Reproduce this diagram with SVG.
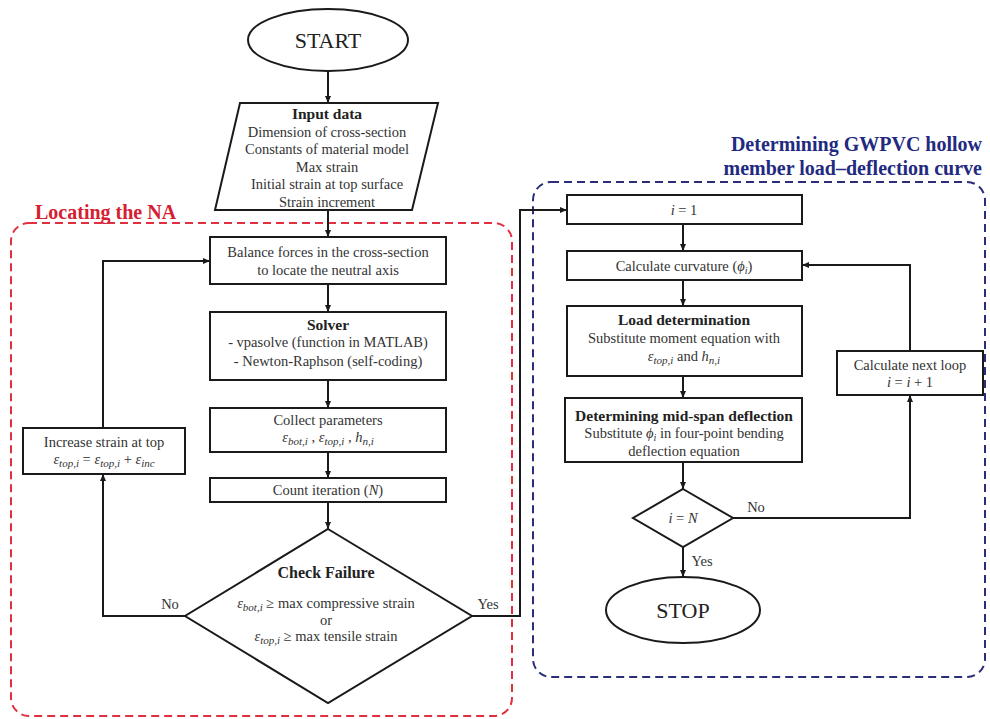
<svg xmlns="http://www.w3.org/2000/svg" width="990" height="719" viewBox="0 0 990 719">
<style>
.bx{fill:#fff;stroke:#1a1a1a;stroke-width:2}
.t{font-family:"Liberation Serif","Times New Roman",serif;font-size:14.5px;fill:#333;text-anchor:middle}
.h{font-weight:bold;font-size:15.5px;fill:#222}
.i{font-style:italic}
.c{fill:none;stroke:#1a1a1a;stroke-width:2}
.ca{fill:none;stroke:#1a1a1a;stroke-width:2;marker-end:url(#ah)}
.rd{fill:none;stroke:#e03040;stroke-width:2;stroke-dasharray:8 5}
.bd{fill:none;stroke:#2a2e78;stroke-width:2;stroke-dasharray:8 5}
.ttl{font-family:"Liberation Serif","Times New Roman",serif;font-size:20px;font-weight:bold}
</style>
<defs>
<marker id="ah" markerWidth="8" markerHeight="8" refX="7" refY="4" orient="auto" markerUnits="userSpaceOnUse"><path d="M0,1 L7,4 L0,7 z" fill="#1a1a1a"/></marker>
</defs>
<rect width="990" height="719" fill="#fff"/>

<g id="region-na">
<rect class="rd" x="11" y="223" width="501" height="493" rx="18"/>
<text class="ttl" x="35" y="219" fill="#d42030">Locating the NA</text>
</g>
<g id="region-curve">
<rect class="bd" x="533" y="182" width="452" height="495" rx="18"/>
<text class="ttl" x="982" y="151" text-anchor="end" fill="#1f2a80">Determining GWPVC hollow</text>
<text class="ttl" x="982" y="175" text-anchor="end" fill="#1f2a80">member load–deflection curve</text>
</g>

<g id="connectors">
<path class="ca" d="M328,71 V103"/>
<path class="ca" d="M328,210 V237"/>
<path class="ca" d="M328,284 V312"/>
<path class="ca" d="M328,380 V408"/>
<path class="ca" d="M328,452 V478"/>
<path class="ca" d="M328,502 V529"/>
<path class="ca" d="M185,616 H103 V474"/>
<path class="ca" d="M103,428 V261 H210"/>
<path class="ca" d="M472,616 H520 V210 H567"/>
<path class="ca" d="M683,224 V251"/>
<path class="ca" d="M683,280 V306"/>
<path class="ca" d="M683,376 V398"/>
<path class="ca" d="M683,462 V489"/>
<path class="ca" d="M683,547 V577"/>
<path class="ca" d="M733,518 H910 V395"/>
<path class="ca" d="M910,351 V265 H802"/>
<text class="t" x="170" y="609">No</text>
<text class="t" x="488" y="609">Yes</text>
<text class="t" x="756" y="512">No</text>
<text class="t" x="702" y="566">Yes</text>
</g>

<g id="start">
<ellipse class="bx" cx="328" cy="40" rx="80" ry="31"/>
<text class="t" x="328" y="48" style="font-size:22px;fill:#222">START</text>
</g>

<g id="input">
<polygon class="bx" points="240,103 438,103 412,210 215,210"/>
<text class="t h" x="327" y="118.5">Input data</text>
<text class="t" x="327" y="137">Dimension of cross-section</text>
<text class="t" x="327" y="154">Constants of material model</text>
<text class="t" x="327" y="172">Max strain</text>
<text class="t" x="327" y="189">Initial strain at top surface</text>
<text class="t" x="327" y="207">Strain increment</text>
</g>

<g id="balance">
<rect class="bx" x="210" y="237" width="236" height="47"/>
<text class="t" x="328" y="257">Balance forces in the cross-section</text>
<text class="t" x="328" y="275">to locate the neutral axis</text>
</g>

<g id="solver">
<rect class="bx" x="210" y="312" width="236" height="68"/>
<text class="t h" x="328" y="329.5">Solver</text>
<text class="t" x="328" y="347">- vpasolve (function in MATLAB)</text>
<text class="t" x="328" y="366">- Newton-Raphson (self-coding)</text>
</g>

<g id="collect">
<rect class="bx" x="210" y="408" width="236" height="44"/>
<text class="t" x="328" y="425">Collect parameters</text>
<text class="t" x="328" y="442"><tspan class="i">ε</tspan><tspan class="i" font-size="11" dy="3">bot,i</tspan><tspan dy="-3"> , </tspan><tspan class="i">ε</tspan><tspan class="i" font-size="11" dy="3">top,i</tspan><tspan dy="-3"> , </tspan><tspan class="i">h</tspan><tspan class="i" font-size="11" dy="3">n,i</tspan></text>
</g>

<g id="count">
<rect class="bx" x="210" y="478" width="236" height="24"/>
<text class="t" x="328" y="495">Count iteration (<tspan class="i">N</tspan>)</text>
</g>

<g id="check">
<polygon class="bx" points="328,529 472,616 328,703 185,616"/>
<text class="t h" x="326" y="578" style="font-size:16px">Check Failure</text>
<text class="t" x="326" y="608"><tspan class="i">ε</tspan><tspan class="i" font-size="11" dy="3">bot,i</tspan><tspan dy="-3"> ≥ max compressive strain</tspan></text>
<text class="t" x="326" y="625">or</text>
<text class="t" x="326" y="641"><tspan class="i">ε</tspan><tspan class="i" font-size="11" dy="3">top,i</tspan><tspan dy="-3"> ≥ max tensile strain</tspan></text>
</g>

<g id="increase">
<rect class="bx" x="23" y="428" width="162" height="46"/>
<text class="t" x="104" y="447">Increase strain at top</text>
<text class="t" x="104" y="464"><tspan class="i">ε</tspan><tspan class="i" font-size="11" dy="3">top,i</tspan><tspan dy="-3"> = </tspan><tspan class="i">ε</tspan><tspan class="i" font-size="11" dy="3">top,i</tspan><tspan dy="-3"> + </tspan><tspan class="i">ε</tspan><tspan class="i" font-size="11" dy="3">inc</tspan></text>
</g>

<g id="i-one">
<rect class="bx" x="567" y="195" width="235" height="29"/>
<text class="t" x="684" y="215"><tspan class="i">i</tspan> = 1</text>
</g>

<g id="curvature">
<rect class="bx" x="567" y="251" width="235" height="29"/>
<text class="t" x="684" y="270.5">Calculate curvature  (<tspan class="i">ϕ</tspan><tspan class="i" font-size="10" dy="3">i</tspan><tspan dy="-3">)</tspan></text>
</g>

<g id="load">
<rect class="bx" x="567" y="306" width="235" height="70"/>
<text class="t h" x="684" y="324.5">Load determination</text>
<text class="t" x="684" y="343">Substitute moment equation with</text>
<text class="t" x="684" y="361"><tspan class="i">ε</tspan><tspan class="i" font-size="11" dy="3">top,i</tspan><tspan dy="-3"> and </tspan><tspan class="i">h</tspan><tspan class="i" font-size="11" dy="3">n,i</tspan></text>
</g>

<g id="midspan">
<rect class="bx" x="565" y="398" width="237" height="64"/>
<text class="t h" x="684" y="420.5">Determining mid-span deflection</text>
<text class="t" x="684" y="438">Substitute <tspan class="i">ϕ</tspan><tspan class="i" font-size="10" dy="3">i</tspan><tspan dy="-3"> in four-point bending</tspan></text>
<text class="t" x="684" y="456">deflection equation</text>
</g>

<g id="i-eq-n">
<polygon class="bx" points="683,489 733,518 683,547 633,518"/>
<text class="t" x="683" y="523"><tspan class="i">i</tspan> = <tspan class="i">N</tspan></text>
</g>

<g id="next-loop">
<rect class="bx" x="837" y="351" width="146" height="44"/>
<text class="t" x="910" y="370">Calculate next loop</text>
<text class="t" x="910" y="387"><tspan class="i">i</tspan> = <tspan class="i">i</tspan> + 1</text>
</g>

<g id="stop">
<ellipse class="bx" cx="683" cy="610" rx="77" ry="33"/>
<text class="t" x="683" y="618" style="font-size:22px;fill:#222">STOP</text>
</g>
</svg>
